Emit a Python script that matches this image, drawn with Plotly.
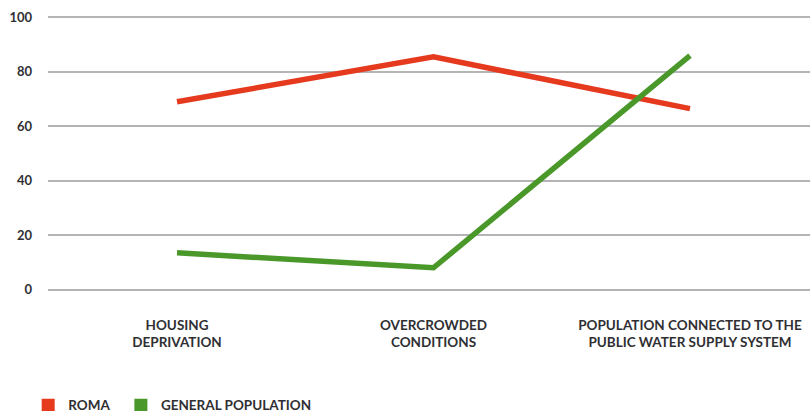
import plotly.graph_objects as go

categories = [
    "HOUSING<br>DEPRIVATION",
    "OVERCROWDED<br>CONDITIONS",
    "POPULATION CONNECTED TO THE<br>PUBLIC WATER SUPPLY SYSTEM",
]
roma = [69, 85.5, 66.5]
general_population = [13.5, 8, 86]
y_ticks = [0, 20, 40, 60, 80, 100]

RED = "#E63A1F"
GREEN = "#4A982A"
TEXT = "#2f2f33"
FONT = "Lato"

fig = go.Figure()

# the two series, drawn as thick lines (legend entries drawn separately as squares)
fig.add_trace(go.Scatter(x=categories, y=roma, mode="lines", name="ROMA",
                         line=dict(color=RED, width=5.5), showlegend=False))
fig.add_trace(go.Scatter(x=categories, y=general_population, mode="lines",
                         name="GENERAL POPULATION",
                         line=dict(color=GREEN, width=5.5), showlegend=False))

# square legend swatches; non-breaking spaces widen the gap after the first entry
for name, color in [("ROMA\u00a0\u00a0", RED), ("GENERAL POPULATION", GREEN)]:
    fig.add_trace(go.Scatter(x=[None], y=[None], mode="markers", name=name,
                             marker=dict(symbol="square", size=13, color=color)))

fig.update_layout(
    width=810, height=411,
    margin=dict(l=48, r=0, t=12, b=116, autoexpand=False),
    paper_bgcolor="white", plot_bgcolor="white",
    font=dict(family=FONT, color=TEXT, size=13),
    legend=dict(orientation="h", x=-0.026, xanchor="left", y=-0.39, yanchor="middle",
                yref="paper", font=dict(family=FONT, size=13.5, color=TEXT, weight="bold"),
                itemwidth=30, traceorder="normal"),
    xaxis=dict(
        type="category", range=[-0.503, 2.468], automargin=False,
        showgrid=False, zeroline=False, showline=False, ticks="",
        tickfont=dict(family=FONT, size=13.5, color=TEXT, weight="bold"),
        ticklabelstandoff=20,
    ),
    yaxis=dict(
        range=[-2, 102], tickvals=y_ticks, automargin=False,
        showgrid=True, gridcolor="#b4b4b4", gridwidth=1.5,
        zeroline=False, showline=False, ticks="",
        tickfont=dict(family=FONT, size=13, color=TEXT, weight="bold"),
        ticklabelstandoff=15,
    ),
)

fig.write_html("out.html")
